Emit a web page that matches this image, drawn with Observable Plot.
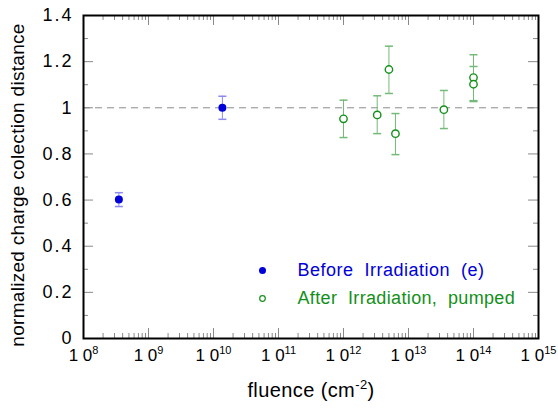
<!DOCTYPE html>
<html><head><meta charset="utf-8">
<script src="https://cdn.jsdelivr.net/npm/d3@7"></script>
<script src="https://cdn.jsdelivr.net/npm/@observablehq/plot@0.6"></script>
<style>
body{margin:0;background:#fff;}
#chart svg{font-family:"Liberation Sans",Arial,sans-serif;}
#chart svg text{white-space:pre;}
</style></head><body><div id="chart"></div>
<script>
// ---- data ----
const beforeFluence = [3.5e8, 1.37e10];
const beforeValue = [0.602, 1.0];
const beforeErr = [0.03, 0.05];
const afterFluence = [1.0e12, 3.3e12, 5.0e12, 6.3e12, 3.5e13, 1.0e14, 1.0e14];
const afterValue = [0.952, 0.969, 1.166, 0.888, 0.992, 1.131, 1.102];
const afterLow = [0.871, 0.888, 1.062, 0.797, 0.910, 1.031, 1.027];
const afterHigh = [1.033, 1.052, 1.267, 0.975, 1.075, 1.230, 1.179];
const xExponents = [8, 9, 10, 11, 12, 13, 14, 15];
const yTickValues = [0, 0.2, 0.4, 0.6, 0.8, 1, 1.2, 1.4];
const yMinorValues = [0.1, 0.3, 0.5, 0.7, 0.9, 1.1, 1.3];
const seriesNames = ["Before  Irradiation  (e)", "After  Irradiation,  pumped"];
const referenceLevel = 1;
const xLabel = "fluence (cm^-2^)";
const yLabel = "normalized charge colection distance";

// ---- styling ----
const BLUE = "#0000d8", BLUE_ERR = "#8a8af2";
const GREEN = "#13901a", GREEN_ERR = "#74ba78";
const TICK = "#8a8a8a";
const W = 558, H = 409, mL = 83, mR = 20, mT = 15, mB = 71;
const plotH = H - mT - mB, plotW = W - mL - mR;

const before = beforeFluence.map((f, i) => ({f, v: beforeValue[i], lo: beforeValue[i] - beforeErr[i], hi: beforeValue[i] + beforeErr[i]}));
const after = afterFluence.map((f, i) => ({f, v: afterValue[i], lo: afterLow[i], hi: afterHigh[i]}));

const xMajor = xExponents.map(e => 10 ** e);
const xMinor = xExponents.slice(0, -1).flatMap(e => [2,3,4,5,6,7,8,9].map(k => k * 10 ** e));
const cap = {draw(ctx) { ctx.moveTo(-4, 0); ctx.lineTo(4, 0); }};

const fmtY = d => d === 0 ? "0" : d === 1 ? "1" : d.toFixed(1);

const chart = Plot.plot({
  width: W, height: H,
  marginLeft: mL, marginRight: mR, marginTop: mT, marginBottom: mB,
  x: {type: "log", domain: [1e8, 1e15], axis: null},
  y: {domain: [0, 1.4], axis: null},
  style: {fontFamily: "Liberation Sans, Arial, sans-serif", background: "#fff"},
  marks: [
    // ticks (inward)
    Plot.tickX(xMinor, {x: d => d, stroke: TICK, insetTop: plotH - 5}),
    Plot.tickX(xMajor, {x: d => d, stroke: TICK, insetTop: plotH - 10}),
    Plot.tickX(xMinor, {x: d => d, stroke: TICK, insetBottom: plotH - 5}),
    Plot.tickX(xMajor, {x: d => d, stroke: TICK, insetBottom: plotH - 10}),
    Plot.tickY(yMinorValues, {y: d => d, stroke: TICK, insetRight: plotW - 5}),
    Plot.tickY(yTickValues, {y: d => d, stroke: TICK, insetRight: plotW - 10}),
    Plot.tickY(yMinorValues, {y: d => d, stroke: TICK, insetLeft: plotW - 5}),
    Plot.tickY(yTickValues, {y: d => d, stroke: TICK, insetLeft: plotW - 10}),
    // reference line
    Plot.ruleY([referenceLevel], {stroke: "#8c8c8c", strokeDasharray: "7,5"}),
    // error bars
    Plot.ruleX(before, {x: "f", y1: "lo", y2: "hi", stroke: BLUE_ERR}),
    Plot.dot(before, {x: "f", y: "lo", symbol: cap, stroke: BLUE_ERR}),
    Plot.dot(before, {x: "f", y: "hi", symbol: cap, stroke: BLUE_ERR}),
    Plot.ruleX(after, {x: "f", y1: "lo", y2: "hi", stroke: GREEN_ERR}),
    Plot.dot(after, {x: "f", y: "lo", symbol: cap, stroke: GREEN_ERR}),
    Plot.dot(after, {x: "f", y: "hi", symbol: cap, stroke: GREEN_ERR}),
    // points
    Plot.dot(before, {x: "f", y: "v", r: 4, fill: BLUE, stroke: "none"}),
    Plot.dot(after, {x: "f", y: "v", r: 3.7, fill: "white", stroke: GREEN, strokeWidth: 1.4}),
    // legend
    Plot.dot([seriesNames[0]], {frameAnchor: "top-left", dx: 262 - mL, dy: 270 - mT, r: 3.5, fill: BLUE, stroke: "none"}),
    Plot.dot([seriesNames[1]], {frameAnchor: "top-left", dx: 262 - mL, dy: 298 - mT, r: 2.8, fill: "white", stroke: GREEN, strokeWidth: 1.2}),
    Plot.text([seriesNames[0]], {text: d => d, frameAnchor: "top-left", dx: 297 - mL, dy: 270 - mT, textAnchor: "start", lineAnchor: "middle", fill: BLUE, fontSize: 18}),
    Plot.text([seriesNames[1]], {text: d => d, frameAnchor: "top-left", dx: 297 - mL, dy: 298 - mT, textAnchor: "start", lineAnchor: "middle", fill: GREEN, fontSize: 18}),
    // tick labels
    Plot.text(xExponents, {x: e => 10 ** e, text: e => "1 0^" + e + "^", frameAnchor: "bottom", dy: 17, lineAnchor: "middle", fill: "black", fontSize: 17}),
    Plot.text(yTickValues, {y: d => d, text: fmtY, frameAnchor: "left", dx: -10, textAnchor: "end", lineAnchor: "middle", fill: "black", fontSize: 18}),
    // axis labels
    Plot.text([xLabel], {text: d => d, frameAnchor: "bottom", dy: 52, textAnchor: "middle", lineAnchor: "middle", fill: "black", fontSize: 20}),
    Plot.text([yLabel], {text: d => d, frameAnchor: "left", dx: -66, dy: 8, rotate: -90, textAnchor: "middle", lineAnchor: "middle", fill: "black", fontSize: 19}),
    Plot.frame({stroke: "black", strokeWidth: 2})
  ]
});

// letter spacing by text role
const yTickTexts = new Set(yTickValues.map(fmtY));
chart.querySelectorAll("text").forEach(t => {
  const s = t.textContent;
  let ls = 0;
  if (s === seriesNames[0]) ls = 0.5;
  else if (s === seriesNames[1]) ls = 0.35;
  else if (s === yLabel) ls = 0.3;
  else if (s === xLabel) ls = 0.4;
  else if (yTickTexts.has(s)) ls = 2;
  if (ls) t.style.letterSpacing = ls + "px";
});

// superscripts: "base^sup^rest"
chart.querySelectorAll("text").forEach(t => {
  const s = t.textContent;
  if (!s.includes("^")) return;
  const [base, sup, rest] = s.split("^");
  const fs = parseFloat(t.getAttribute("font-size") || t.parentNode.getAttribute("font-size")) || 17;
  const ss = Math.round(fs * 0.65);
  const rise = Math.round(fs * 0.42);
  t.textContent = "";
  const ns = "http://www.w3.org/2000/svg";
  t.appendChild(document.createTextNode(base));
  const ts = document.createElementNS(ns, "tspan");
  ts.setAttribute("dy", -rise); ts.setAttribute("font-size", ss); ts.textContent = sup;
  t.appendChild(ts);
  if (rest) {
    const tr = document.createElementNS(ns, "tspan");
    tr.setAttribute("dy", rise); tr.textContent = rest;
    t.appendChild(tr);
  }
});
document.getElementById("chart").appendChild(chart);
</script>
</body></html>
